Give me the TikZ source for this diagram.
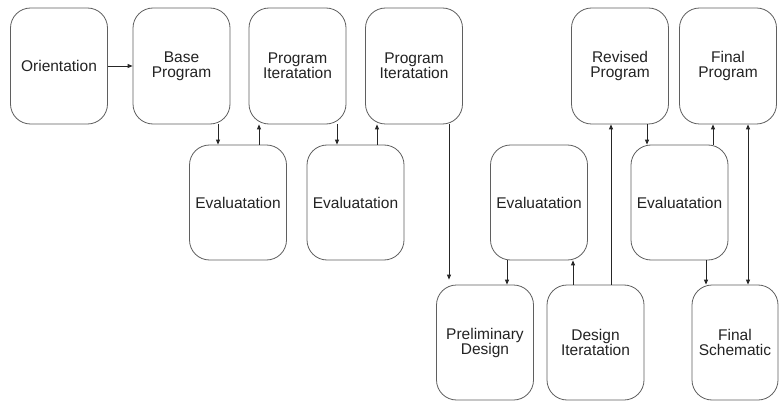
\documentclass[tikz,border=0pt]{standalone}
\usepackage{fontspec}
\setmainfont{Liberation Sans}
\usepackage{tikz}
\usetikzlibrary{arrows.meta, positioning}
\definecolor{BoxLine}{RGB}{95,95,95}
\definecolor{TextGray}{RGB}{35,35,35}

\begin{document}
\begin{tikzpicture}[x=1pt, y=-1pt,
          phase/.style={rectangle, rounded corners=20pt, draw=BoxLine,
                        line width=0.8pt, minimum width=97pt,
                        minimum height=116pt, inner sep=0pt, align=center,
                        text=TextGray, font=\fontsize{15.5}{15}\selectfont},
          arr/.style={-{Triangle[length=5pt, width=4pt]}, line width=0.9pt, black!85}
        ]
        \fill[white] (0,0) rectangle (779,401);
        \useasboundingbox (0,0) rectangle (779,401);
        \clip (0,0) rectangle (779,401);

        % Program stages (top row)
        \node[phase] (or)  at (59, 66)    {Orientation};
        \node[phase] (bp)  at (181.5, 66) {Base\\Program};
        \node[phase] (pi1) at (297.5, 66) {Program\\Iteratation};
        \node[phase] (pi2) at (414, 66)   {Program\\Iteratation};
        \node[phase] (rp)  at (620, 66)   {Revised\\Program};
        \node[phase] (fp)  at (728, 66)   {Final\\Program};

        % Evaluations
        \node[phase, minimum height=115pt] (e1) at (238, 202.5)   {Evaluatation};
        \node[phase, minimum height=115pt] (e2) at (355.5, 202.5) {Evaluatation};
        \node[phase, minimum height=115pt] (e3) at (539, 202.5)   {Evaluatation};
        \node[phase, minimum height=115pt] (e4) at (679.5, 202.5) {Evaluatation};

        % Design stages (bottom row)
        \node[phase, minimum height=115pt] (pd) at (485, 342.5)   {Preliminary\\Design};
        \node[phase, minimum height=115pt] (di) at (595.5, 342.5) {Design\\Iteratation};
        \node[phase, minimum height=115pt, minimum width=86pt] (fs) at (735, 342.5)
              {Final\\Schematic};

        % Arrows
        \draw[arr] (or) -- (bp);
        \draw[arr] ([xshift=36.5pt]bp.south) -- ([xshift=36.5pt]bp.south |- e1.north);
        \draw[arr] ([xshift=21pt]e1.north) -- ([xshift=21pt]e1.north |- pi1.south);
        \draw[arr] ([xshift=39.5pt]pi1.south) -- ([xshift=39.5pt]pi1.south |- e2.north);
        \draw[arr] ([xshift=21.5pt]e2.north) -- ([xshift=21.5pt]e2.north |- pi2.south);
        \draw[arr] ([xshift=35pt]pi2.south) -- ([xshift=35pt, yshift=5pt]pi2.south |- pd.north);
        \draw[arr] ([xshift=-32pt]e3.south) -- ([xshift=-32pt]e3.south |- pd.north);
        \draw[arr] ([xshift=-22.5pt]di.north) -- ([xshift=-22.5pt]di.north |- e3.south);
        \draw[arr] ([xshift=15.5pt]di.north) -- ([xshift=15.5pt]di.north |- rp.south);
        \draw[arr] ([xshift=27pt]rp.south) -- ([xshift=27pt]rp.south |- e4.north);
        \draw[arr] ([xshift=33.5pt]e4.north) -- ([xshift=33.5pt]e4.north |- fp.south);
        \draw[arr] ([xshift=26.5pt]e4.south) -- ([xshift=26.5pt]e4.south |- fs.north);
        \draw[arr, {Triangle[length=5pt, width=4pt]}-{Triangle[length=5pt, width=4pt]}]
              ([xshift=20pt]fp.south) -- ([xshift=20pt]fp.south |- fs.north);
      \end{tikzpicture}
\end{document}
